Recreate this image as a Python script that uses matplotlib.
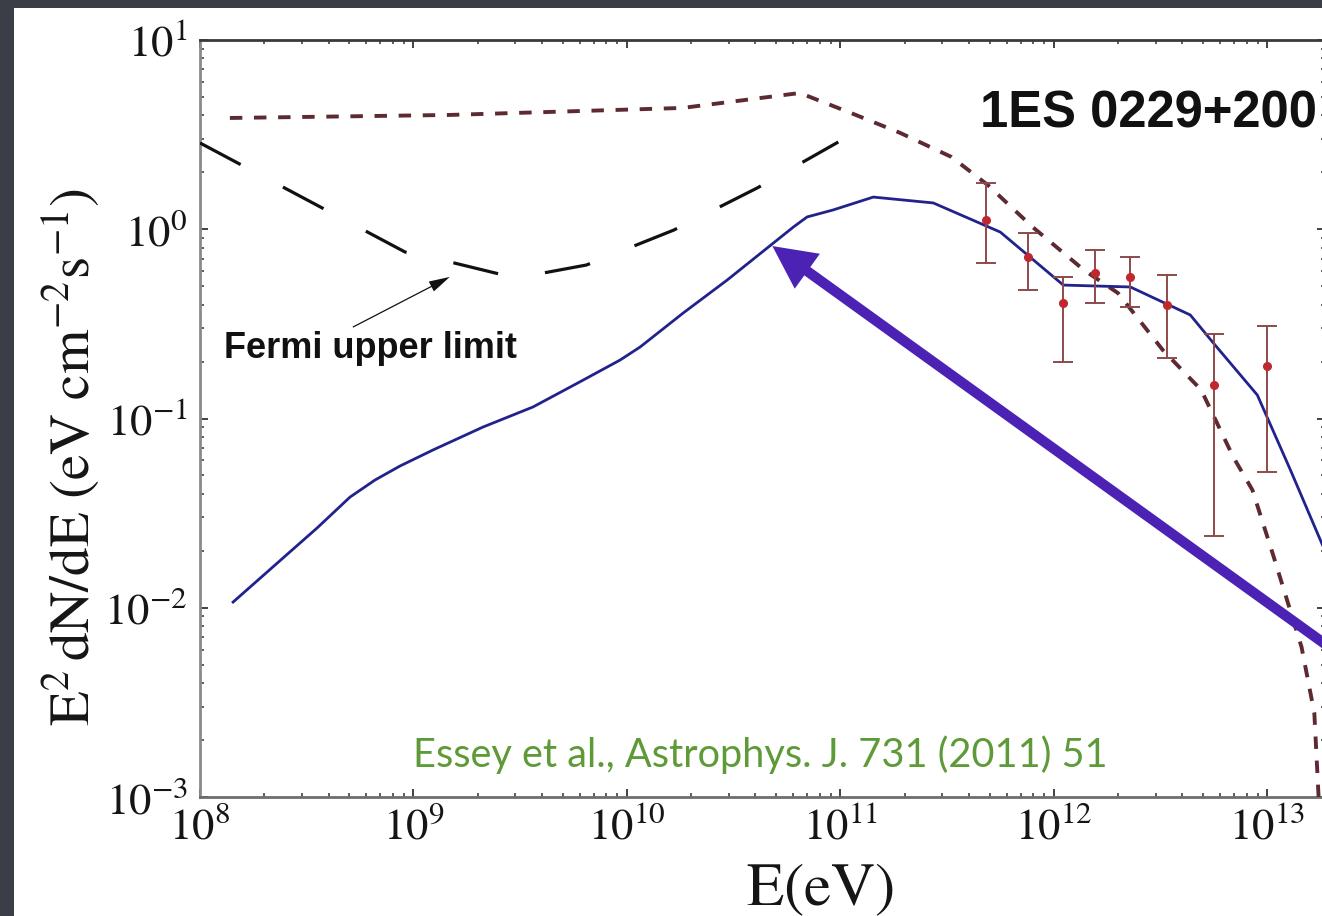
import numpy as np
import matplotlib
matplotlib.use("Agg")
import matplotlib.pyplot as plt
from matplotlib.patches import Rectangle

# ---- data (log10 of energy in eV, log10 of E^2 dN/dE in eV cm^-2 s^-1) ----
model_logE = [8.155, 8.389, 8.548, 8.703, 8.820, 8.937, 9.092, 9.326, 9.560, 9.795, 9.968,
              10.062, 10.263, 10.47, 10.657, 10.78, 10.844, 10.966, 11.154, 11.435, 11.749,
              12.044, 12.358, 12.639, 12.747, 12.953, 13.108, 13.258]
model_logF = [-1.970, -1.737, -1.579, -1.415, -1.325, -1.251, -1.166, -1.045, -0.939, -0.797, -0.691,
              -0.622, -0.443, -0.268, -0.099, 0.012, 0.065, 0.102, 0.170, 0.139, -0.015,
              -0.295, -0.305, -0.453, -0.601, -0.876, -1.272, -1.668]

intrinsic_logE = [8.14, 9.17, 10.26, 10.81, 11.05, 11.28, 11.52, 11.69, 11.90, 12.14,
                  12.30, 12.51, 12.69, 12.84, 12.93, 13.03, 13.16, 13.22, 13.24]
intrinsic_logF = [0.588, 0.604, 0.641, 0.720, 0.614, 0.509, 0.382, 0.234, 0.012, -0.215,
                  -0.337, -0.638, -0.849, -1.203, -1.378, -1.732, -2.207, -2.556, -3.0]

fermi_logE = [8.00, 8.96, 9.19, 9.48, 9.81, 10.22, 10.61, 10.99]
fermi_logF = [0.456, -0.120, -0.178, -0.258, -0.189, -0.004, 0.218, 0.461]

# HESS measurements
obs_E = [4.8e11, 7.6e11, 1.1e12, 1.56e12, 2.28e12, 3.4e12, 5.6e12, 1.0e13]
obs_F = [1.12, 0.71, 0.41, 0.59, 0.56, 0.40, 0.15, 0.19]
obs_F_hi = [1.75, 0.955, 0.56, 0.78, 0.71, 0.57, 0.28, 0.31]
obs_F_lo = [0.66, 0.48, 0.20, 0.41, 0.39, 0.21, 0.024, 0.052]

source_name = "1ES 0229+200"
fermi_label = "Fermi upper limit"
citation = "Essey et al., Astrophys. J. 731 (2011) 51"

# ---- figure ----
W, H = 1322, 916
plt.rcParams["font.family"] = "STIXGeneral"
plt.rcParams["mathtext.fontset"] = "stix"

fig = plt.figure(figsize=(W / 100, H / 100), dpi=100, facecolor="#3b3e46")
fig.patches.append(Rectangle((14 / W, 0), 1.0, 908 / H, transform=fig.transFigure,
                             facecolor="white", edgecolor="none", zorder=-5))

ax = fig.add_axes([200 / W, (H - 797) / H, 1125 / W, 757 / H])
ax.set_facecolor("white")
ax.set_xscale("log")
ax.set_yscale("log")
ax.set_xlim(1e8, 10 ** 13.27)
ax.set_ylim(1e-3, 1e1)

to_lin = lambda v: 10 ** np.asarray(v)

ax.plot(to_lin(fermi_logE), to_lin(fermi_logF), color="#111111", lw=2.3,
        linestyle=(0, (14.4, 15.0)), solid_capstyle="butt", dash_capstyle="butt", zorder=3)
ax.plot(to_lin(intrinsic_logE), to_lin(intrinsic_logF), color="#5e2a32", lw=2.8,
        linestyle=(0, (3.2, 3.0)), dash_capstyle="butt", zorder=3)
ax.plot(to_lin(model_logE), to_lin(model_logF), color="#22228c", lw=2.0, zorder=4)

obs_F_arr = np.array(obs_F)
yerr = [obs_F_arr - np.array(obs_F_lo), np.array(obs_F_hi) - obs_F_arr]
ax.errorbar(obs_E, obs_F, yerr=yerr, fmt="o", color="#c0282e", ecolor="#8e4a4a",
            elinewidth=1.4, capsize=7, capthick=1.4, markersize=5.5, zorder=5)

# axis styling
for side, col in [("left", "#8a8a8a"), ("bottom", "#6e6e6e"), ("top", "#3a3a3a"), ("right", "#6e6e6e")]:
    ax.spines[side].set_color(col)
    ax.spines[side].set_linewidth(2.0)
ax.tick_params(which="both", direction="in", top=True, right=True, colors="#333333")
ax.tick_params(which="major", length=6, width=1.3, labelsize=32, labelcolor="#151515")
ax.tick_params(which="minor", length=3, width=1.1)
ax.tick_params(axis="x", which="major", pad=7)
ax.tick_params(axis="y", which="major", pad=9)

# labels
fig.text(72 / W, (H - 457) / H, r"$\mathrm{E^{2}\,dN/dE\ (eV\ cm^{-2}s^{-1})}$",
         rotation=90, ha="center", va="center", fontsize=41, color="#151515")
fig.text(820 / W, (H - 905) / H, r"$\mathrm{E(eV)}$", ha="center", va="baseline",
         fontsize=44, color="#151515")

fig.text(1317 / W, (H - 128) / H, source_name, ha="right", va="baseline",
         fontsize=36.5, fontweight="bold", family="Liberation Sans", color="#111111")

ax.text(1.3e8, 0.209, fermi_label, ha="left", va="baseline", fontsize=26,
        fontweight="bold", family="Liberation Sans", color="#111111", zorder=6)
ax.annotate("", xy=(1.48e9, 0.56), xytext=(5.2e8, 0.304),
            arrowprops=dict(arrowstyle="simple,head_length=15,head_width=8,tail_width=0.9",
                            mutation_scale=1, color="#111111", lw=0,
                            shrinkA=0, shrinkB=0), zorder=6)

fig.text(413 / W, (H - 767) / H, citation, ha="left", va="baseline", fontsize=28.6,
         family="Lato", color="#5e9b38")

# pointer to the cascade peak
ax.annotate("", xy=(4.8e10, 0.815), xycoords="data",
            xytext=(1400, H - 698), textcoords="figure pixels",
            arrowprops=dict(arrowstyle="simple,head_length=31,head_width=31,tail_width=7.4",
                            mutation_scale=1, color="#4b22b4", lw=0,
                            shrinkA=0, shrinkB=0),
            annotation_clip=False, zorder=10)

fig.savefig("out.png", dpi=100, facecolor=fig.get_facecolor())
